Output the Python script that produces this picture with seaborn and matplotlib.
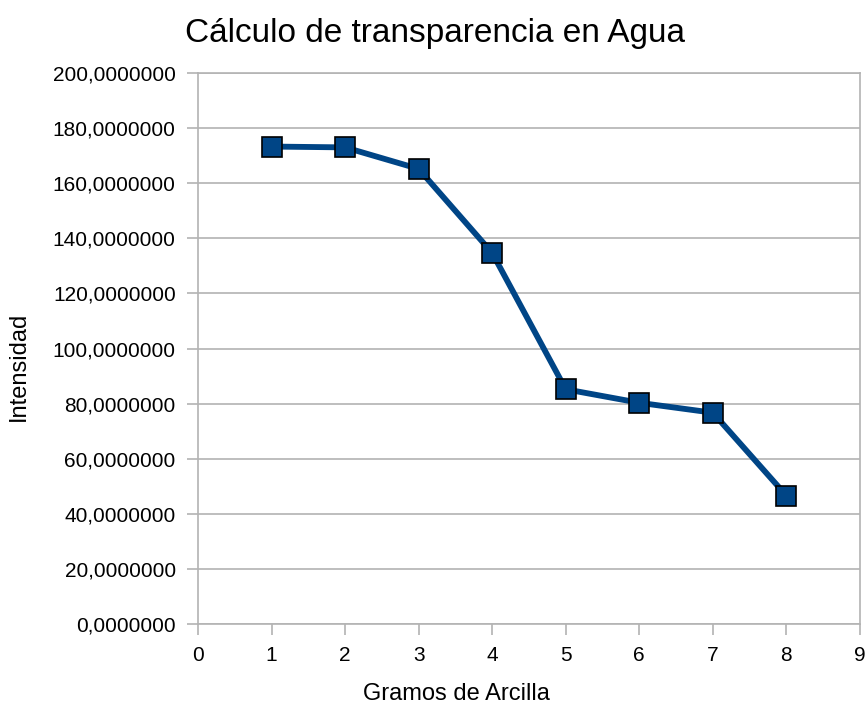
import matplotlib
matplotlib.use("Agg")
import matplotlib.pyplot as plt
import seaborn as sns
import pandas as pd
from matplotlib.ticker import FuncFormatter, MultipleLocator

# Datos
gramos = [1, 2, 3, 4, 5, 6, 7, 8]
intensidad = [173.3, 173.0, 165.2, 134.7, 85.2, 80.3, 76.7, 46.6]

datos = pd.DataFrame({'gramos': gramos, 'intensidad': intensidad})

sns.set_style('white')
plt.rcParams['font.family'] = ['Liberation Sans', 'DejaVu Sans']
plt.rcParams['text.color'] = 'black'
plt.rcParams['axes.labelcolor'] = 'black'
plt.rcParams['xtick.color'] = 'black'
plt.rcParams['ytick.color'] = 'black'

fig = plt.figure(figsize=(8.66, 7.08), dpi=100)
ax = fig.add_axes([0.2286, 0.1186, 0.7644, 0.7783])

sns.lineplot(x='gramos', y='intensidad', data=datos, ax=ax,
             color='#004586', linewidth=4.2, marker='s', markersize=14.5,
             markerfacecolor='#004586', markeredgecolor='black',
             markeredgewidth=1.2, zorder=3)

ax.set_xlim(0, 9)
ax.set_ylim(0, 200)
ax.xaxis.set_major_locator(MultipleLocator(1))
ax.yaxis.set_major_locator(MultipleLocator(20))
ax.yaxis.set_major_formatter(FuncFormatter(lambda v, p: f'{v:.7f}'.replace('.', ',')))

ax.grid(axis='y', color='#b3b3b3', linewidth=1.2)
ax.grid(axis='x', visible=False)
for s in ax.spines.values():
    s.set_color('#b3b3b3')
    s.set_linewidth(1.2)
ax.tick_params(axis='both', direction='out', length=8, width=1.2,
               color='#b3b3b3', labelcolor='black', labelsize=15, pad=8,
               left=True, bottom=True)

ax.set_xlabel('Gramos de Arcilla', fontsize=17)
ax.xaxis.set_label_coords(0.391, -0.107)
ax.set_ylabel('Intensidad', fontsize=17)
ax.yaxis.set_label_coords(-0.254, 0.467)

fig.suptitle('Cálculo de transparencia en Agua', fontsize=24, x=0.502, y=0.975)

plt.savefig('out.png', dpi=100)
